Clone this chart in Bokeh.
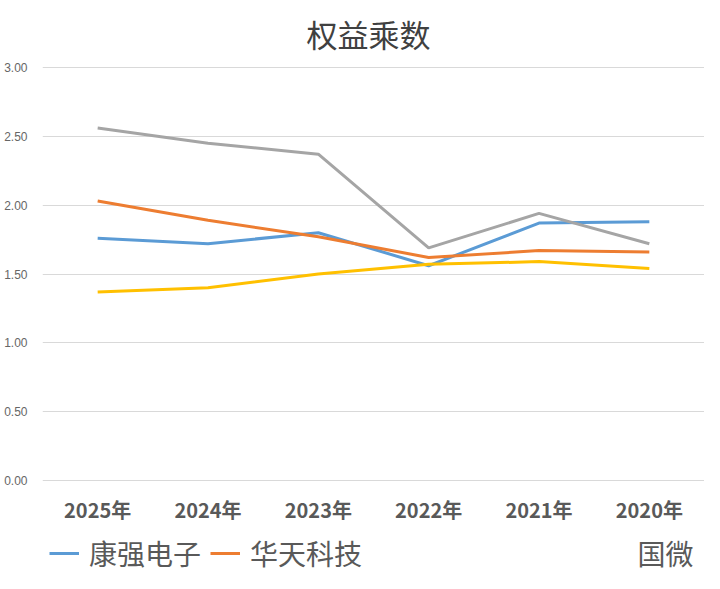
from bokeh.plotting import figure
from bokeh.models import Range1d, FactorRange, Legend, LegendItem, FixedTicker, NumeralTickFormatter, ColumnDataSource
from bokeh.core.properties import value
from bokeh.embed import file_html
from bokeh.resources import INLINE

years = ["2025年", "2024年", "2023年", "2022年", "2021年", "2020年"]
kangqiang = [1.76, 1.72, 1.80, 1.56, 1.87, 1.88]
huatian = [2.03, 1.89, 1.77, 1.62, 1.67, 1.66]
gray_series = [2.56, 2.45, 2.37, 1.69, 1.94, 1.72]
yellow_series = [1.37, 1.40, 1.50, 1.57, 1.59, 1.54]
y_ticks = [0.0, 0.5, 1.0, 1.5, 2.0, 2.5, 3.0]

title_text = "权益乘数"
legend_names = ["康强电子", "华天科技"]
legend_tail = "国微"

BLUE = "#5B9BD5"
ORANGE = "#ED7D31"
GRAY = "#A5A5A5"
YELLOW = "#FFC000"

W, H = 704, 573
LEFT = 42
PX_PER_UNIT = 137.667   # 0 at y=480, 3.00 at y=67
Y_ZERO_PX = 480
X_PX_PER_CAT = (W - LEFT) / len(years)
y_top = 3 + 67 / PX_PER_UNIT
y_bottom = -(H - Y_ZERO_PX) / PX_PER_UNIT

p = figure(width=W, height=H, output_backend="svg", toolbar_location=None,
           x_range=FactorRange(*years, range_padding=0), y_range=Range1d(y_bottom, y_top),
           min_border_left=LEFT, min_border_right=0, min_border_top=0, min_border_bottom=0)
p.outline_line_color = None
p.background_fill_color = "white"
p.border_fill_color = "white"

p.yaxis.ticker = FixedTicker(ticks=y_ticks)
p.yaxis.formatter = NumeralTickFormatter(format="0.00")
p.yaxis.axis_line_color = None
p.yaxis.major_tick_line_color = None
p.yaxis.minor_tick_line_color = None
p.yaxis.major_label_text_font = "Liberation Sans"
p.yaxis.major_label_text_font_size = "12px"
p.yaxis.major_label_text_color = "#666666"
p.yaxis.major_label_standoff = 9

p.xaxis.visible = False
p.xgrid.grid_line_color = None
p.ygrid.ticker = FixedTicker(ticks=y_ticks)
p.ygrid.grid_line_color = "#D9D9D9"
p.ygrid.grid_line_width = 1

# category labels under the plot
lab_src = ColumnDataSource(dict(x=years, y=[-(509 - Y_ZERO_PX) / PX_PER_UNIT] * len(years), t=years))
p.text(x="x", y="y", text="t", source=lab_src, text_align="center", text_baseline="middle",
       text_font=value("Noto Sans CJK SC"), text_font_style="bold", text_font_size="20px",
       text_color="#595959")

r_blue = p.line(years, kangqiang, line_color=BLUE, line_width=3)
r_orange = p.line(years, huatian, line_color=ORANGE, line_width=3)
r_gray = p.line(years, gray_series, line_color=GRAY, line_width=3)
r_yellow = p.line(years, yellow_series, line_color=YELLOW, line_width=3)

# title
p.text(x=[(368 - LEFT) / X_PX_PER_CAT], y=[3 + (67 - 33) / PX_PER_UNIT], text=[title_text],
       text_align="center", text_baseline="middle",
       text_font=value("Noto Sans CJK SC"), text_font_size="31px", text_color="#404040")

legend = Legend(items=[LegendItem(label=legend_names[0], renderers=[r_blue]),
                       LegendItem(label=legend_names[1], renderers=[r_orange])],
                orientation="horizontal", location=(7, 0),
                label_text_font="Noto Sans CJK SC", label_text_font_size="28px",
                label_text_color="#595959", glyph_width=30, glyph_height=20,
                label_standoff=10, spacing=9, padding=0, margin=0,
                border_line_color=None, background_fill_alpha=0)
p.add_layout(legend, "center")

p.text(x=[(637 - LEFT) / X_PX_PER_CAT], y=[-(552 - Y_ZERO_PX) / PX_PER_UNIT], text=[legend_tail],
       text_align="left", text_baseline="middle",
       text_font=value("Noto Sans CJK SC"), text_font_size="28px", text_color="#595959")

open("out.html", "w").write(file_html(p, INLINE))
